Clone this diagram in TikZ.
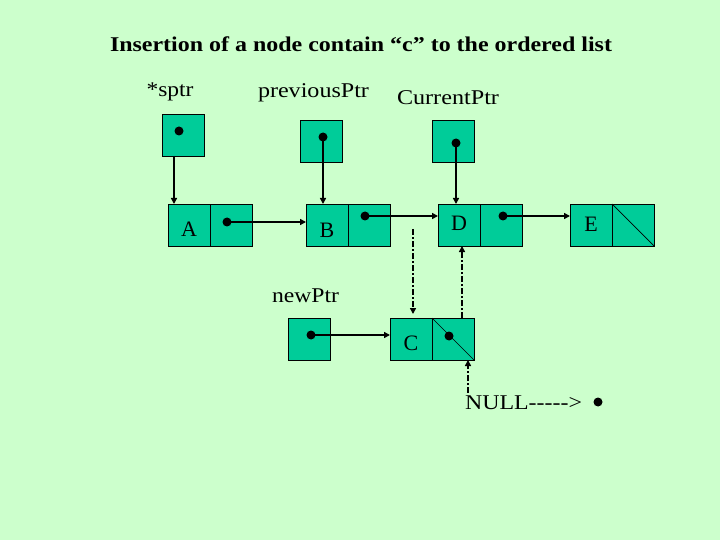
\documentclass[tikz,border=0pt]{standalone}
\usepackage{fontspec}
\setmainfont{Liberation Serif}
\usetikzlibrary{arrows.meta}
\definecolor{bg}{HTML}{CCFFCC}
\definecolor{cell}{HTML}{00CC99}
\tikzset{
  cellbox/.style={draw=black, line width=0.9pt, fill=cell, minimum width=42pt, minimum height=42pt, inner sep=0pt, outer sep=0pt},
  dot/.style={circle, fill=black, minimum size=9pt, inner sep=0pt},
  ptr/.style={line width=2pt, -{Triangle[length=6pt,width=6pt]}},
  dptr/.style={line width=2.3pt, dash pattern=on 6pt off 2pt on 2pt off 2pt, -{Triangle[length=6pt,width=6pt]}},
  lbl/.style={inner sep=0pt, font=\fontsize{21}{25}\selectfont},
  letter/.style={inner sep=0pt, font=\fontsize{22}{26}\selectfont}
}
\begin{document}
\begin{tikzpicture}[x=1pt,y=-1pt]
\fill[bg] (0,0) rectangle (720,540);
\useasboundingbox (0,0) rectangle (720,540);

% title and labels
\node[inner sep=0pt, font=\fontsize{21}{25}\selectfont\bfseries] (title) at (361,44) {\resizebox{502pt}{\height}{Insertion of a node contain “c” to the ordered list}};
\node[lbl] (lsptr) at (170,92) {\resizebox{47pt}{\height}{*sptr}};
\node[lbl] (lprev) at (313.5,93) {\resizebox{111pt}{\height}{previousPtr}};
\node[lbl] (lcur) at (448,98) {\resizebox{102pt}{\height}{CurrentPtr}};
\node[lbl] (lnew) at (305.5,296) {\resizebox{67pt}{\height}{newPtr}};

% pointer boxes
\node[cellbox] (sptr) at (183,135) {};
\node[cellbox] (prev) at (321,141) {};
\node[cellbox] (cur) at (453,141) {};
\node[cellbox] (new) at (309,339) {};

% list nodes
\node[cellbox] (Aval) at (189,225) {};
\node[cellbox] (Anext) at (231,225) {};
\node[cellbox] (Bval) at (327,225) {};
\node[cellbox] (Bnext) at (369,225) {};
\node[cellbox] (Dval) at (459,225) {};
\node[cellbox] (Dnext) at (501,225) {};
\node[cellbox] (Eval) at (591,225) {};
\node[cellbox] (Enext) at (633,225) {};
\node[cellbox] (Cval) at (411,339) {};
\node[cellbox] (Cnext) at (453,339) {};
\draw[line width=0.7pt] (Enext.north west) -- (Enext.south east);
\draw[line width=0.7pt] (Cnext.north west) -- (Cnext.south east);

\node[letter] (tA) at (189,229) {A};
\node[letter] (tB) at (327,230) {B};
\node[letter] (tD) at (459,223) {D};
\node[letter] (tE) at (591,224) {E};
\node[letter] (tC) at (411,343) {C};

% dots
\node[dot] (psptr) at (179,131) {};
\node[dot] (pprev) at (323,137) {};
\node[dot] (pcur) at (456,143) {};
\node[dot] (pnew) at (311,335) {};
\node[dot] (pA) at (227,222) {};
\node[dot] (pB) at (365,216) {};
\node[dot] (pD) at (503,216) {};
\node[dot] (pC) at (449,336) {};

% solid connectors
\draw[ptr] ([xshift=-9pt]sptr.south) -- ([xshift=-9pt]sptr.south |- Aval.north);
\draw[ptr] (pprev.center) -- (pprev |- Bval.north);
\draw[ptr] (pcur.center) -- (pcur |- Dval.north);
\draw[ptr] (pA.center) -- (pA -| Bval.west);
\draw[ptr] (pB.center) -- (pB -| Dval.west);
\draw[ptr] (pD.center) -- (pD -| Eval.west);
\draw[ptr] (pnew.center) -- (pnew -| Cval.west);

% dash-dot connectors
\coordinate (d1) at (413,229);
\coordinate (d1e) at (413,314);
\draw[dptr] (d1) -- (d1e);
\coordinate (d2) at (462,318);
\draw[dptr] (d2) -- (d2 |- Dval.south);
\coordinate (d3) at (468,393);
\draw[dptr] (d3) -- (d3 |- Cnext.south);

% NULL
\node[lbl] (null) at (523.5,403) {\resizebox{117pt}{\height}{NULL-{}-{}-{}-{}->}};
\node[dot] (nulldot) at (598,402) {};
\end{tikzpicture}
\end{document}
